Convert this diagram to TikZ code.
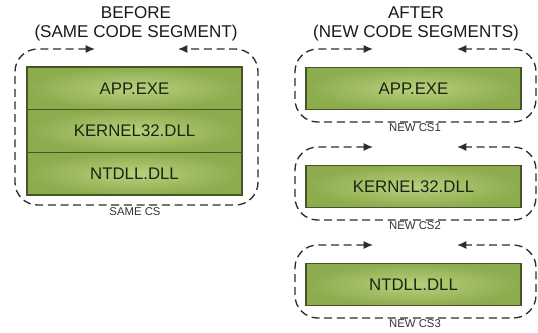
\documentclass[tikz,border=0pt]{standalone}
\usepackage{fontspec}
\setmainfont{Liberation Sans}
\usetikzlibrary{positioning,arrows.meta}
\definecolor{verdeclaro}{RGB}{184,208,124}
\definecolor{verdeoscuro}{RGB}{140,172,78}
\definecolor{bordeverde}{RGB}{70,84,40}
\definecolor{trazo}{RGB}{45,45,45}
\definecolor{letra}{RGB}{28,36,20}
\tikzset{
  modulo/.style={draw=bordeverde, line width=0.9pt, inner color=verdeclaro, outer color=verdeoscuro,
    minimum width=161.25pt, minimum height=32pt, outer sep=0pt, text=letra,
    font=\fontsize{12.6}{14}\selectfont},
  titulo/.style={align=center, text=black!90, font=\fontsize{12.8}{14.25}\selectfont},
  etiqueta/.style={text=black!80, font=\fontsize{8.5}{10}\selectfont},
  segmento/.style={draw=trazo, line width=1pt, dash pattern=on 6pt off 3.5pt, rounded corners=17pt,
    {Latex[length=7pt,width=6pt]}-{Latex[length=7pt,width=6pt]}}
}
\begin{document}
\begin{tikzpicture}[x=0.75pt, y=-0.75pt]
    \useasboundingbox (0,0) rectangle (538,332);
    % Antes
    \node[titulo] (antes) at (136,23.5) {BEFORE\\(SAME CODE SEGMENT)};
    \node[modulo] (app) at (134.5,88.3) {APP.EXE};
    \node[modulo, below=0pt of app] (kernel) {KERNEL32.DLL};
    \node[modulo, below=0pt of kernel] (ntdll) {NTDLL.DLL};
    \coordinate (ai) at (95,49);
    \coordinate (ad) at (178,49);
    \draw[segmento] (ai) -- (15,49) -- (15,205) -- (258,205) -- (258,49) -- (ad);
    \node[etiqueta] (mismo) at (135,212) {SAME CS};
    % Despues
    \node[titulo] (despues) at (416,23.5) {AFTER\\(NEW CODE SEGMENTS)};
    \node[modulo] (appn) at (413.5,88.5) {APP.EXE};
    \coordinate (bi) at (373,49);
    \coordinate (bd) at (457,49);
    \draw[segmento] (bi) -- (295,49) -- (295,122) -- (536,122) -- (536,49) -- (bd);
    \node[etiqueta] (cs1) at (415,128) {NEW CS1};
    \node[modulo] (kerneln) at (413.5,186.5) {KERNEL32.DLL};
    \coordinate (ci) at (373,147);
    \coordinate (cd) at (457,147);
    \draw[segmento] (ci) -- (295,147) -- (295,220) -- (536,220) -- (536,147) -- (cd);
    \node[etiqueta] (cs2) at (415,226) {NEW CS2};
    \node[modulo] (ntdlln) at (413.5,284.5) {NTDLL.DLL};
    \coordinate (di) at (373,245);
    \coordinate (dd) at (457,245);
    \draw[segmento] (di) -- (295,245) -- (295,318) -- (536,318) -- (536,245) -- (dd);
    \node[etiqueta] (cs3) at (415,324) {NEW CS3};
\end{tikzpicture}
\end{document}
